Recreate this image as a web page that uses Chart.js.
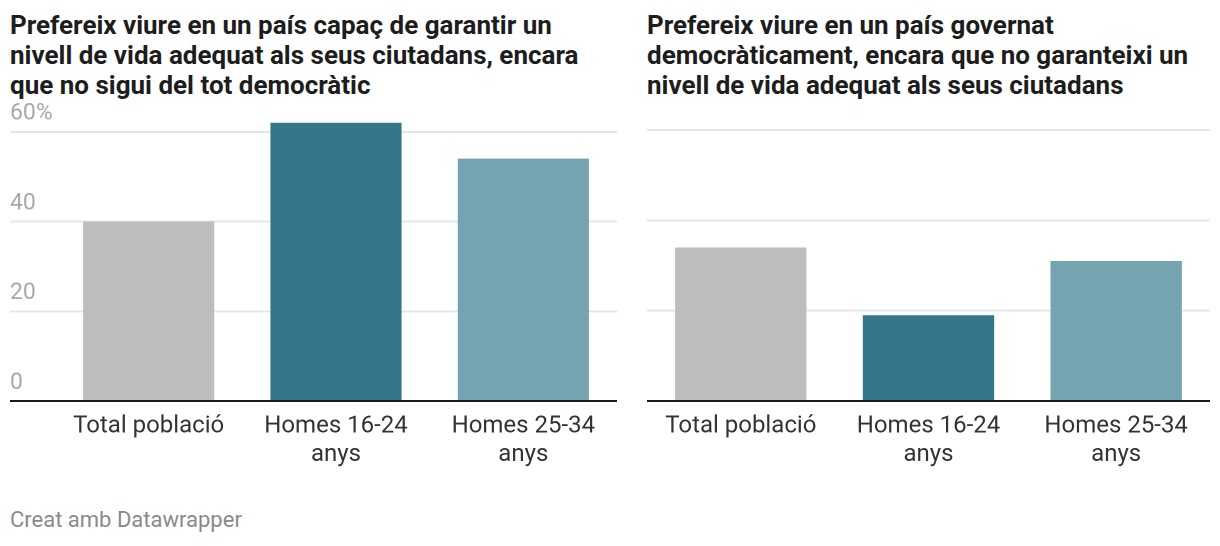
<!DOCTYPE html>
<html>
<head>
<meta charset="utf-8">
<script src="https://cdn.jsdelivr.net/npm/chart.js@4/dist/chart.umd.min.js"></script>
<style>
  html, body { margin: 0; padding: 0; background: #fff; }
  body { width: 1220px; height: 546px; position: relative; overflow: hidden; font-family: Roboto, "Noto Sans", sans-serif; }
  .title { position: absolute; top: 10px; font-weight: 700; font-size: 26px; line-height: 30px; color: #1d1d1d; white-space: nowrap; }
  #t1 { left: 10px; }
  #t2 { left: 647px; }
  .wrap { position: absolute; top: 100px; height: 381px; }
  #w1 { left: 0; width: 620px; }
  #w2 { left: 620px; width: 600px; }
  #footer { position: absolute; left: 10px; top: 507px; font-size: 22px; color: #8a8a8a; line-height: 26px; }
</style>
</head>
<body>
<div class="title" id="t1">Prefereix viure en un país capaç de garantir un<br>nivell de vida adequat als seus ciutadans, encara<br>que no sigui del tot democràtic</div>
<div class="title" id="t2">Prefereix viure en un país governat<br>democràticament, encara que no garanteixi un<br>nivell de vida adequat als seus ciutadans</div>
<div class="wrap" id="w1"><canvas id="c1"></canvas></div>
<div class="wrap" id="w2"><canvas id="c2"></canvas></div>
<div id="footer">Creat amb Datawrapper</div>
<script>
const categories = [["Total població"], ["Homes 16-24", "anys"], ["Homes 25-34", "anys"]];
const valuesNivellVida = [40, 62, 54];
const valuesDemocracia = [34, 19, 31];
const yTicks = [0, 20, 40, 60];
const barColors = ["#bdbdbd", "#35768b", "#73a4b0"];

function makeChart(canvasId, values, showY) {
  return new Chart(document.getElementById(canvasId), {
    type: 'bar',
    data: {
      labels: categories,
      datasets: [{
        data: values,
        backgroundColor: barColors,
        barPercentage: 0.7,
        categoryPercentage: 1.0,
        borderWidth: 0
      }]
    },
    options: {
      responsive: true,
      maintainAspectRatio: false,
      animation: false,
      devicePixelRatio: 2,
      layout: { padding: { left: showY ? 10 : 27, right: showY ? 3 : 10, top: 12, bottom: 0 } },
      plugins: { legend: { display: false }, tooltip: { enabled: false } },
      scales: {
        x: {
          grid: { display: false, drawTicks: false },
          border: { display: false },
          afterFit: (s) => { s.height = 80; },
          ticks: {
            color: '#333333',
            font: { family: 'Roboto', size: 24 },
            padding: 11,
            maxRotation: 0,
            autoSkip: false
          }
        },
        y: {
          min: 0,
          max: 64,
          afterBuildTicks: (s) => { s.ticks = yTicks.map(v => ({ value: v })); },
          afterFit: (s) => { s.width = showY ? 45 : 0; },
          border: { display: false },
          grid: {
            color: (ctx) => (ctx.tick && ctx.tick.value === 0) ? '#1a1a1a' : '#e6e6e6',
            lineWidth: 2,
            drawTicks: showY,
            tickLength: 45
          },
          ticks: {
            display: showY,
            crossAlign: 'far',
            padding: 0,
            labelOffset: -18,
            color: '#a8a8a8',
            font: { family: 'Roboto', size: 23 },
            callback: (v) => v === 60 ? '60%' : String(v)
          }
        }
      }
    }
  });
}
makeChart('c1', valuesNivellVida, true);
makeChart('c2', valuesDemocracia, false);
</script>
</body>
</html>
